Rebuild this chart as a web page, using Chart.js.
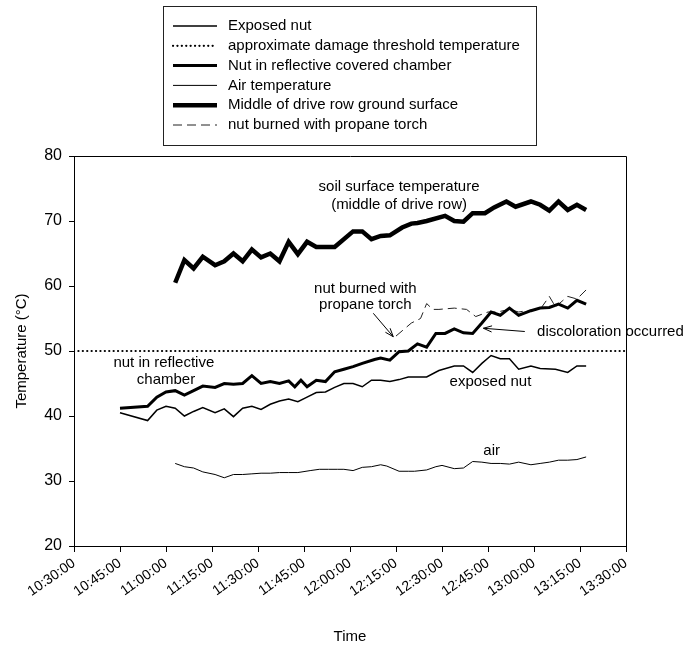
<!DOCTYPE html>
<html>
<head>
<meta charset="utf-8">
<script src="https://cdn.jsdelivr.net/npm/chart.js@4/dist/chart.umd.min.js"></script>
<style>
  html, body { margin: 0; padding: 0; background: #fff; }
  #wrap { width: 688px; height: 652px; }
</style>
</head>
<body>
<div id="wrap"><canvas id="c" width="688" height="652"></canvas></div>
<script>
// ---- Data (clock time "HH:MM", temperature in °C) ----
const AXIS_START = '10:30';
const AXIS_END = '13:30';
const TICK_STEP_MIN = 15;
const THRESHOLD_C = 50;

const exposedTimes = ['10:45','10:54','10:57','11:00','11:03','11:06','11:09','11:12','11:16','11:19','11:22','11:25','11:28','11:31','11:34','11:37','11:40','11:43','11:46','11:49','11:52','11:55','11:58','12:01','12:04','12:07','12:10','12:13','12:16','12:19','12:25','12:29','12:34','12:37','12:40','12:43','12:46','12:49','12:52','12:55','12:59','13:02','13:07','13:11','13:14','13:17'];
const exposedTemps = [40.5,39.3,40.9,41.5,41.2,40.0,40.7,41.3,40.5,41.1,39.9,41.2,41.5,41.0,41.8,42.3,42.6,42.2,42.9,43.6,43.7,44.4,45.0,45.0,44.5,45.5,45.5,45.3,45.6,46.0,46.0,47.0,47.7,47.7,46.7,48.1,49.3,48.8,48.8,47.2,47.7,47.3,47.2,46.7,47.7,47.7];

const chamberTimes = ['10:45','10:54','10:57','11:00','11:03','11:06','11:09','11:12','11:16','11:19','11:22','11:25','11:28','11:31','11:34','11:37','11:40','11:42','11:44','11:46','11:49','11:52','11:55','11:58','12:01','12:04','12:08','12:10','12:13','12:16','12:19','12:22','12:25','12:28','12:31','12:34','12:37','12:40','12:43','12:46','12:49','12:52','12:55','12:59','13:02','13:05','13:08','13:11','13:14','13:17'];
const chamberTemps = [41.2,41.5,42.9,43.7,43.9,43.2,43.9,44.6,44.4,45.0,44.9,45.0,46.2,45.0,45.3,45.0,45.4,44.5,45.5,44.5,45.5,45.3,46.8,47.2,47.6,48.1,48.7,48.9,48.6,49.9,50.0,51.1,50.6,52.7,52.7,53.4,52.8,52.7,54.3,56.0,55.5,56.6,55.5,56.2,56.6,56.7,57.2,56.6,57.8,57.2];

const airTimes = ['11:03','11:06','11:09','11:12','11:16','11:19','11:22','11:25','11:28','11:31','11:34','11:37','11:40','11:43','11:47','11:50','11:53','11:56','11:58','12:01','12:04','12:07','12:10','12:12','12:16','12:19','12:21','12:25','12:28','12:30','12:34','12:37','12:40','12:43','12:46','12:49','12:52','12:55','12:59','13:02','13:05','13:08','13:11','13:14','13:17'];
const airTemps = [32.7,32.2,32.0,31.4,31.0,30.5,31.0,31.0,31.1,31.2,31.2,31.3,31.3,31.3,31.6,31.8,31.8,31.8,31.8,31.6,32.1,32.2,32.5,32.3,31.5,31.5,31.5,31.7,32.2,32.4,31.9,32.0,33.0,32.9,32.7,32.7,32.6,32.9,32.5,32.7,32.9,33.2,33.2,33.3,33.7];

const soilTimes = ['11:03','11:06','11:09','11:12','11:16','11:19','11:22','11:25','11:28','11:31','11:34','11:37','11:40','11:43','11:46','11:49','11:55','12:01','12:04','12:07','12:10','12:13','12:17','12:20','12:22','12:25','12:31','12:34','12:37','12:40','12:44','12:47','12:51','12:54','12:59','13:02','13:05','13:08','13:11','13:14','13:17'];
const soilTemps = [60.5,64.0,62.7,64.5,63.2,63.8,65.0,63.8,65.6,64.4,65.0,63.8,66.8,64.9,66.8,66.0,66.0,68.4,68.4,67.2,67.7,67.8,69.0,69.6,69.7,70.0,70.8,70.0,69.9,71.2,71.2,72.1,73.0,72.2,73.0,72.5,71.6,73.0,71.7,72.5,71.7];

const torchTimes = ['12:15','12:20','12:23','12:25','12:27','12:29','12:34','12:38','12:41','12:45','12:48','12:52','12:55','12:59','13:02','13:05','13:07','13:08','13:11','13:14','13:17'];
const torchTemps = [52.3,54.3,55.0,57.3,56.4,56.4,56.6,56.4,55.3,56.0,56.0,56.4,56.0,56.3,56.4,58.4,56.8,57.2,58.4,58.0,59.4];

// ---- Helpers ----
const toMin = t => { const [h, m] = t.split(':'); return Number(h) * 60 + Number(m); };
const series = (times, temps) => times.map((t, i) => ({ x: toMin(t), y: temps[i] }));
const fmtClock = v => {
  const h = Math.floor(v / 60), m = Math.round(v - h * 60);
  return h + ':' + String(m).padStart(2, '0') + ':00';
};

const FONT = "'Liberation Sans', Arial, Helvetica, sans-serif";
Chart.defaults.font.family = FONT;
Chart.defaults.color = '#000';

// Text notes placed in data coordinates (clock time, °C)
const notes = [
  { text: 'soil surface temperature', t: '12:16', v: 75.3, align: 'center' },
  { text: '(middle of drive row)', t: '12:16', v: 72.5, align: 'center' },
  { text: 'nut burned with', t: '12:05', v: 59.5, align: 'center' },
  { text: 'propane torch', t: '12:05', v: 57.1, align: 'center' },
  { text: 'discoloration occurred', t: '13:01', v: 53.0, align: 'left' },
  { text: 'nut in reflective', t: '10:59.3', v: 48.1, align: 'center' },
  { text: 'chamber', t: '11:00', v: 45.5, align: 'center' },
  { text: 'exposed nut', t: '12:45.8', v: 45.2, align: 'center' },
  { text: 'air', t: '12:46.2', v: 34.6, align: 'center' }
];
const arrows = [
  { from: ['12:07.6', 55.8], to: ['12:14.1', 52.2] },
  { from: ['12:57', 53.0], to: ['12:43.5', 53.5] }
];

const decorations = {
  id: 'decorations',
  afterDraw(chart) {
    const { ctx, chartArea: a, scales: { x, y } } = chart;
    ctx.save();
    // closing frame on top and right
    ctx.strokeStyle = '#000';
    ctx.lineWidth = 1;
    ctx.beginPath();
    ctx.moveTo(Math.round(a.left) + 0.5, Math.round(a.top) + 0.5);
    ctx.lineTo(Math.round(a.right) + 0.5, Math.round(a.top) + 0.5);
    ctx.lineTo(Math.round(a.right) + 0.5, Math.round(a.bottom) + 0.5);
    ctx.stroke();

    // notes
    ctx.fillStyle = '#000';
    ctx.font = '15px ' + FONT;
    ctx.textBaseline = 'middle';
    notes.forEach(n => {
      ctx.textAlign = n.align;
      ctx.fillText(n.text, x.getPixelForValue(toMin(n.t)), y.getPixelForValue(n.v));
    });

    // arrows with open heads
    ctx.lineWidth = 1;
    arrows.forEach(ar => {
      const x1 = x.getPixelForValue(toMin(ar.from[0])), y1 = y.getPixelForValue(ar.from[1]);
      const x2 = x.getPixelForValue(toMin(ar.to[0])), y2 = y.getPixelForValue(ar.to[1]);
      const ang = Math.atan2(y2 - y1, x2 - x1), L = 9, spread = 0.35;
      ctx.beginPath();
      ctx.moveTo(x1, y1); ctx.lineTo(x2, y2);
      ctx.moveTo(x2 - L * Math.cos(ang - spread), y2 - L * Math.sin(ang - spread));
      ctx.lineTo(x2, y2);
      ctx.lineTo(x2 - L * Math.cos(ang + spread), y2 - L * Math.sin(ang + spread));
      ctx.stroke();
    });

    // legend box
    const bx = 163.5, byTop = 6.5, bw = 373, bh = 139;
    ctx.strokeStyle = '#222';
    ctx.strokeRect(bx, byTop, bw, bh);
    const rowY0 = 26, rowStep = 19.8;
    chart.data.datasets.forEach((ds, i) => {
      const ry = rowY0 + i * rowStep;
      ctx.save();
      ctx.strokeStyle = ds.borderColor;
      ctx.lineWidth = ds.borderWidth;
      ctx.lineCap = ds.borderCapStyle || 'butt';
      ctx.setLineDash(ds.borderDash || []);
      ctx.beginPath();
      ctx.moveTo(173, ry); ctx.lineTo(217, ry);
      ctx.stroke();
      ctx.restore();
      ctx.fillStyle = '#000';
      ctx.textAlign = 'left';
      ctx.textBaseline = 'middle';
      ctx.font = '15px ' + FONT;
      ctx.fillText(ds.label, 228, ry);
    });
    ctx.restore();
  }
};

new Chart(document.getElementById('c'), {
  type: 'line',
  data: {
    datasets: [
      { label: 'Exposed nut', data: series(exposedTimes, exposedTemps), borderColor: '#000', borderWidth: 1.5 },
      { label: 'approximate damage threshold temperature',
        data: [{ x: toMin(AXIS_START), y: THRESHOLD_C }, { x: toMin(AXIS_END), y: THRESHOLD_C }],
        borderColor: '#000', borderWidth: 2.2, borderDash: [0.1, 4.3], borderCapStyle: 'round' },
      { label: 'Nut in reflective covered chamber', data: series(chamberTimes, chamberTemps), borderColor: '#000', borderWidth: 3 },
      { label: 'Air temperature', data: series(airTimes, airTemps), borderColor: '#000', borderWidth: 1 },
      { label: 'Middle of drive row ground surface', data: series(soilTimes, soilTemps), borderColor: '#000', borderWidth: 4.5 },
      { label: 'nut burned with propane torch', data: series(torchTimes, torchTemps), borderColor: '#222', borderWidth: 1, borderDash: [9, 5] }
    ]
  },
  options: {
    responsive: false,
    animation: false,
    devicePixelRatio: 1,
    events: [],
    layout: { padding: { top: 156, right: 62, left: 0, bottom: 0 } },
    elements: { point: { radius: 0 }, line: { tension: 0, borderJoinStyle: 'miter' } },
    plugins: { legend: { display: false }, tooltip: { enabled: false } },
    scales: {
      x: {
        type: 'linear',
        min: toMin(AXIS_START), max: toMin(AXIS_END),
        ticks: { stepSize: TICK_STEP_MIN, autoSkip: false, minRotation: 35, maxRotation: 35,
                 padding: 3, font: { size: 14 }, color: '#000', callback: v => fmtClock(v) },
        grid: { drawOnChartArea: false, drawTicks: true, tickLength: 6, color: '#000' },
        border: { color: '#000', width: 1 },
        title: { display: true, text: 'Time', font: { size: 15 }, color: '#000', padding: { top: 0, bottom: 6 } },
        afterFit(s) { s.height = 106; }
      },
      y: {
        min: 20, max: 80,
        ticks: { stepSize: 10, padding: 7, font: { size: 16 }, color: '#000' },
        grid: { drawOnChartArea: false, drawTicks: true, tickLength: 5, color: '#000' },
        border: { color: '#000', width: 1 },
        title: { display: true, text: 'Temperature (°C)', font: { size: 15 }, color: '#000', padding: { top: 13, bottom: 0 } },
        afterFit(s) { s.width = 74; }
      }
    }
  },
  plugins: [decorations]
});
</script>
</body>
</html>
